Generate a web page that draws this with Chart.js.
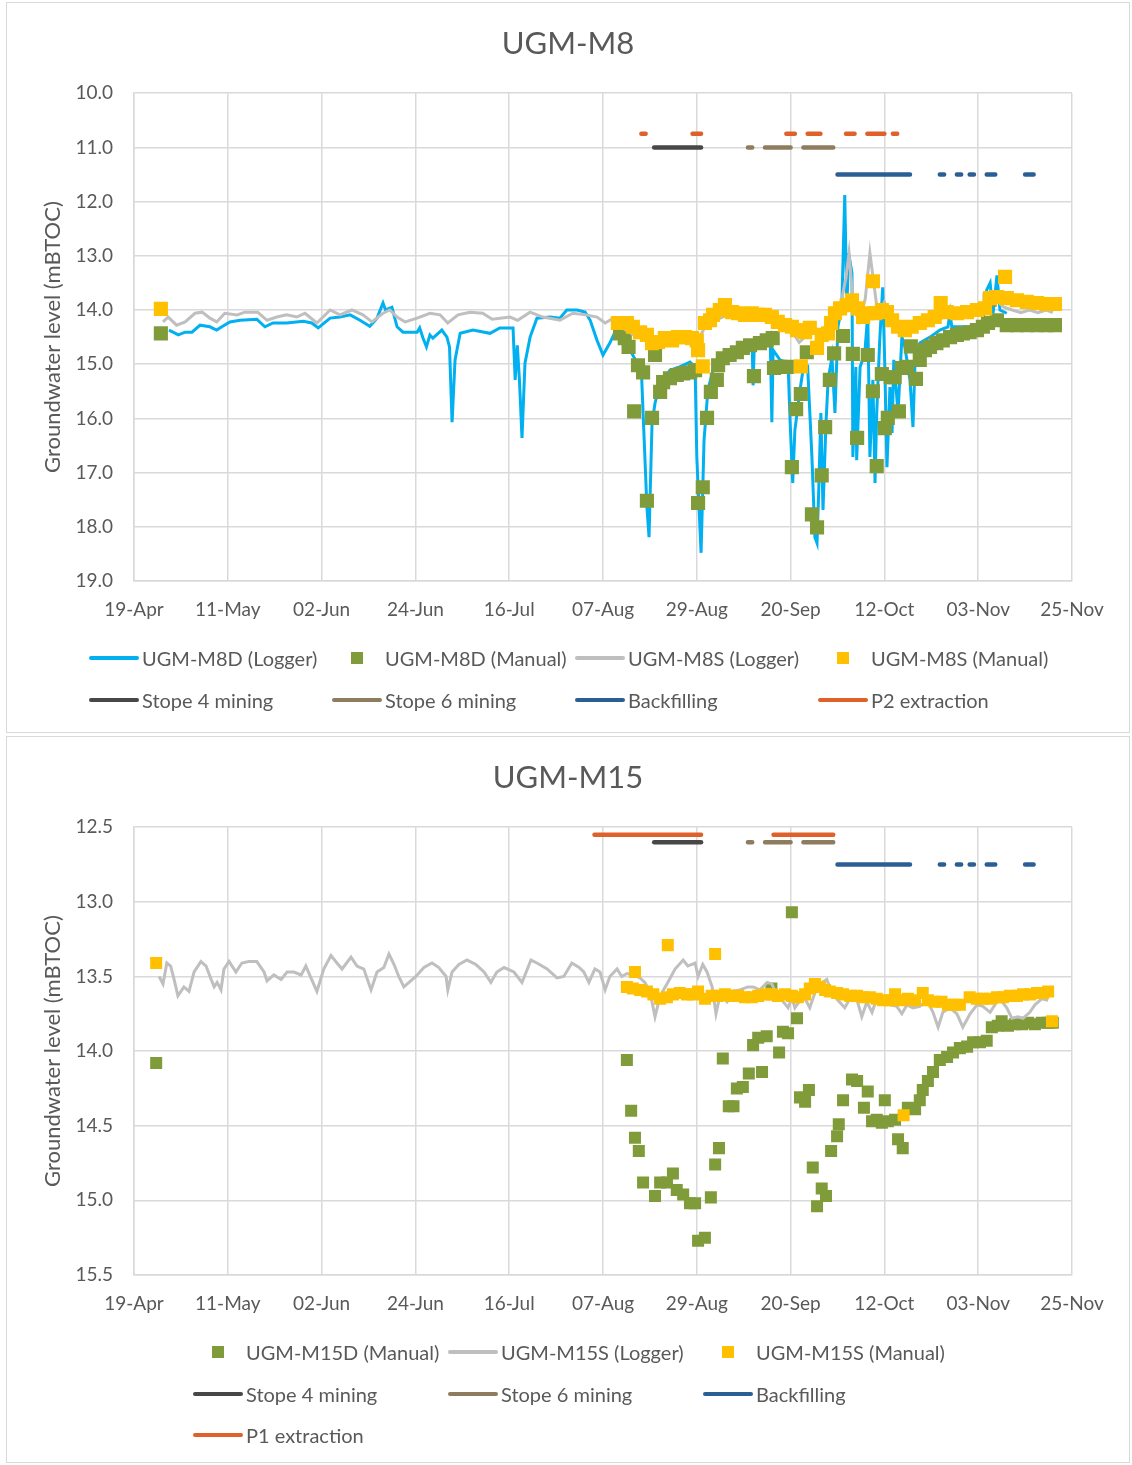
<!DOCTYPE html>
<html>
<head>
<meta charset="utf-8">
<script src="https://cdn.jsdelivr.net/npm/chart.js@4.4.1/dist/chart.umd.min.js"></script>
<style>
  body { margin: 0; background: #fff; font-family: Lato, sans-serif; }
  .box { position: absolute; left: 6px; width: 1122px; border: 1px solid #d9d9d9; background: #fff; }
  #box1 { top: 2px; height: 729px; }
  #box2 { top: 736px; height: 725px; }
  .box canvas { position: absolute; left: 0; top: 0; }
  .item { position: absolute; height: 24px; line-height: 24px; font-size: 20px; color: #595959; white-space: nowrap; }
  .sample { display: inline-block; vertical-align: top; position: relative; width: 50px; height: 24px; margin-right: 3px; }
  .line { position: absolute; left: 0; right: 0; top: 10px; height: 4px; border-radius: 2px; }
  .mark { position: absolute; left: 19px; top: 6px; width: 12px; height: 12px; }
</style>
</head>
<body>
<div class="box" id="box1"><canvas id="chart_m8" width="1122" height="729"></canvas></div>
<div class="box" id="box2"><canvas id="chart_m15" width="1122" height="725"></canvas></div>

<script>
// x values are days counted from 19-Apr
var tickLabels = ["19-Apr", "11-May", "02-Jun", "24-Jun", "16-Jul", "07-Aug", "29-Aug", "20-Sep", "12-Oct", "03-Nov", "25-Nov"];

// ------------------- UGM-M8 -------------------------
var m8dLoggerDays = [8.2, 10.4, 12, 13.6, 15.5, 17.8, 19.4, 20.6, 22.5, 24.9, 28.8, 30.7, 32.6, 35.8, 39.7, 41.7, 43.2, 46, 48.3, 50.7,
  53, 55.3, 57, 58.4, 59, 60.5, 61.7, 63.1, 66.4, 67, 67.8, 68.6, 69.4, 70.1, 72.2, 73.4, 74, 74.6, 75.3, 76.5,
  79.5, 83.5, 85.8, 88.9, 89.4, 89.9, 90.4, 91, 91.7, 92.9, 94.5, 97.6, 99.9, 101.5, 103.9, 105.8, 107, 108.6, 110, 111.6,
  112.8, 114, 116.3, 119, 119.5, 120.3, 120.8, 121.5, 122.2, 123.4, 125.7, 128, 130.4, 131.6, 132, 133, 133.7, 134.6, 135.8, 138.1,
  141.4, 143.8, 145, 145.2, 145.5, 148, 149.2, 149.6, 149.9, 151.5, 153.4, 153.9, 154.5, 155, 156.2, 156.9, 158, 159, 159.7, 160.2,
  160.6, 161.1, 161.6, 162.3, 162.8, 163.7, 164.4, 165.1, 166, 166.7, 167.2, 167.6, 168.4, 168.6, 169.3, 169.5, 170.3, 171.4, 172.1, 172.6,
  173.3, 173.8, 174.2, 174.9, 175.6, 176.1, 176.6, 177.3, 177.8, 178.2, 179.2, 180.1, 180.8, 182, 182.7, 183.2, 184.3, 186.7, 189, 190.9,
  191.4, 191.8, 193.7, 196.8, 199.1, 200, 200.8, 201.5, 202.4, 203.1, 204.7];
var m8dLoggerLevel = [14.37, 14.46, 14.41, 14.41, 14.28, 14.31, 14.37, 14.31, 14.22, 14.19, 14.17, 14.31, 14.24, 14.24, 14.21, 14.24, 14.33, 14.15, 14.13, 14.09,
  14.19, 14.30, 14.15, 13.87, 14.0, 13.95, 14.31, 14.41, 14.41, 14.33, 14.52, 14.68, 14.46, 14.52, 14.37, 14.50, 14.68, 16.07, 14.92, 14.43,
  14.37, 14.43, 14.33, 14.33, 15.29, 14.65, 15.29, 16.36, 14.98, 14.50, 14.15, 14.13, 14.15, 14.0, 14.0, 14.04, 14.19, 14.56, 14.83, 14.61,
  14.41, 14.5, 14.74, 15.11, 16.09, 17.64, 18.19, 16.09, 15.72, 15.35, 15.11, 15.05, 14.96, 15.05, 16.71, 18.48, 16.40, 15.48, 15.11, 14.87,
  14.70, 14.61, 14.68, 15.39, 14.61, 14.50, 14.43, 16.07, 14.74, 14.92, 14.98, 16.09, 17.19, 16.22, 15.48, 15.11, 15.05, 16.71, 18.19, 18.30,
  17.32, 15.90, 17.69, 16.09, 15.29, 14.87, 15.90, 14.31, 13.95, 11.88, 13.95, 12.95, 13.32, 16.71, 15.05, 16.77, 15.05, 14.80, 14.06, 16.71,
  15.29, 17.19, 15.90, 14.56, 13.58, 15.05, 16.90, 15.42, 16.27, 14.92, 15.90, 14.50, 14.68, 15.29, 16.16, 14.92, 14.61, 14.50, 14.37, 14.31,
  14.06, 14.31, 14.31, 14.31, 14.19, 13.63, 13.50, 14.06, 13.36, 14.0, 14.06];

var m8sLoggerDays = [6.8, 8, 10, 12, 14.3, 16, 17.8, 19.4, 21.3, 24.2, 26, 29, 31.2, 33.5, 35.8, 38.2, 40.1, 42.9, 46, 48.3,
  51.1, 53.7, 55.8, 58.4, 60, 61.7, 63.6, 66.4, 69.4, 71.8, 73.6, 76, 78.8, 81.8, 84, 88.2, 90, 92.9, 95.9, 99.9,
  102.9, 106, 108.6, 110.5, 112.4, 114, 117, 120, 123, 126, 129, 132, 134, 136, 139, 142, 145, 148, 151, 154,
  156, 158, 160, 162, 163, 165, 166, 167, 167.7, 168.4, 169, 170, 171.5, 172.6, 173.5, 174.5, 176, 178, 180, 182,
  185, 188, 191, 194, 197, 200, 202, 204, 206, 208, 210, 212, 214, 215.5];
var m8sLoggerLevel = [14.22, 14.13, 14.28, 14.22, 14.06, 14.04, 14.15, 14.22, 14.06, 14.09, 14.04, 14.04, 14.19, 14.13, 14.09, 14.13, 14.06, 14.24, 14.0, 14.09,
  14.0, 14.09, 14.22, 14.06, 14.0, 14.13, 14.22, 14.15, 14.06, 14.09, 14.24, 14.09, 14.04, 14.06, 14.17, 14.13, 14.19, 14.04, 14.13, 14.19,
  14.06, 14.09, 14.13, 14.24, 14.15, 14.3, 14.45, 14.55, 14.6, 14.55, 14.55, 14.6, 14.3, 14.2, 14.1, 14.05, 14.1, 14.15, 14.2, 14.35,
  14.6, 14.45, 14.35, 14.45, 14.3, 14.0, 13.8, 13.4, 12.95, 13.6, 14.0, 14.2, 13.8, 12.95, 13.5, 14.1, 13.85, 14.3, 14.4, 14.35,
  14.3, 14.2, 14.1, 14.1, 14.0, 13.9, 13.8, 13.95, 14.0, 14.05, 14.0, 14.05, 14.0, 14.05];

var m8dManualDays = [6.3, 114, 115.1, 116, 117.3, 118.2, 119.4, 120.3, 121.5, 122.2, 123.4, 124.1, 125.7, 127.3, 128.8, 130.4, 131.6, 132.3, 133.4, 134.4,
  135.3, 136.7, 137, 138.1, 139.7, 141.4, 142.8, 144.5, 145.4, 146.8, 148.4, 149.8, 150.1, 151.5, 153.1, 154.3, 155.3, 156.4, 157.8, 159,
  160.2, 161.3, 162.1, 163.2, 164.2, 166.3, 168.6, 169.6, 172.1, 173.3, 174.2, 175.4, 176.1, 176.8, 177.5, 178.4, 179.4, 180.1, 181.3, 182.2,
  183.4, 184.3, 185.5, 186.7, 188.2, 189.7, 191.4, 193, 194.4, 196, 197.7, 199.1, 200.3, 200.7, 202.4, 204.7, 207.1, 209.4, 211.8, 214, 216];
var m8dManualLevel = [14.43, 14.43, 14.52, 14.68, 15.87, 15.02, 15.15, 17.52, 15.99, 14.83, 15.51, 15.33, 15.26, 15.20, 15.17, 15.15, 15.11, 17.56, 17.27, 15.99,
  15.51, 15.29, 15.02, 14.89, 14.83, 14.78, 14.70, 14.65, 15.22, 14.61, 14.56, 14.52, 15.07, 15.05, 15.05, 16.90, 15.83, 15.55, 14.78, 17.77,
  18.01, 17.05, 16.16, 15.29, 14.80, 14.48, 14.81, 16.36, 14.83, 15.50, 16.88, 15.18, 16.18, 15.99, 15.24, 15.24, 15.87, 15.07, 15.05, 14.67,
  15.27, 14.92, 14.74, 14.68, 14.61, 14.56, 14.50, 14.46, 14.43, 14.41, 14.37, 14.31, 14.24, 13.81, 14.19, 14.28, 14.28, 14.28, 14.28, 14.28, 14.28];

var m8sManualDays = [6.3, 113.5, 115.6, 117, 118.7, 120.3, 121.5, 122.9, 124.5, 126.2, 127.6, 129.2, 130.9, 132, 132.3, 133.4, 133.9, 135.1, 135.8, 137.4,
  138.6, 140.3, 141.7, 143.3, 144.9, 146.4, 148, 149.6, 151, 152.7, 154.3, 155.5, 156.4, 157.4, 158.5, 160.2, 161.3, 162.8, 163.5, 164.4,
  165.6, 167.2, 168.4, 169.8, 171, 172.1, 173.3, 173.8, 175.4, 176.6, 177.8, 179.2, 180.8, 182.4, 184.3, 186.2, 187.8, 189.2, 190.6, 193,
  195.4, 197.7, 199.6, 200.8, 202.4, 204.3, 204.7, 207.1, 209.4, 211.8, 214, 216];
var m8sManualLevel = [13.98, 14.24, 14.24, 14.31, 14.41, 14.46, 14.61, 14.59, 14.52, 14.56, 14.50, 14.50, 14.52, 14.56, 14.74, 15.04, 14.24, 14.19, 14.09, 14.0,
  13.91, 14.04, 14.06, 14.09, 14.06, 14.09, 14.09, 14.13, 14.22, 14.28, 14.31, 14.37, 15.04, 14.41, 14.33, 14.70, 14.46, 14.43, 14.24, 14.06,
  13.97, 13.91, 13.82, 13.97, 14.13, 14.06, 13.47, 14.06, 14.0, 14.04, 14.19, 14.31, 14.37, 14.31, 14.24, 14.19, 14.13, 13.87, 14.04, 14.06,
  14.04, 14.0, 13.97, 13.78, 13.76, 13.39, 13.78, 13.82, 13.85, 13.87, 13.89, 13.89];

// ------------------- UGM-M15 -------------------------
var m15sLoggerDays = [5.9, 6.8, 7.7, 8.6, 9.4, 10.3, 11.7, 12.9, 14.1, 15.7, 16.9, 18.1, 18.8, 19.5, 20.4, 21.1, 22.3, 23.9, 25.3, 26.9,
  28.8, 30.5, 31.2, 32.8, 34.5, 35.9, 37.5, 39.2, 40.3, 41.5, 42.9, 44.5, 46.2, 47.6, 48.8, 50.9, 52.3, 53.9, 55.6, 57,
  58.6, 59.8, 61, 62.1, 63.3, 64.5, 66.1, 68, 69.9, 71.5, 73.2, 73.6, 74.6, 76.2, 78.1, 80.2, 82.1, 83.7, 85.1, 86.8,
  89.1, 91, 93.1, 94.5, 96.9, 99.2, 100.8, 102.7, 104.4, 105.5, 106.7, 108.1, 109.3, 110.5, 111.6, 113.3, 114.4, 115.6, 117, 118.7,
  119.8, 121, 122.2, 123.4, 125.2, 126.9, 128.8, 129.9, 131.6, 132.3, 133.4, 134.4, 135.6, 136.5, 137.4, 139.1, 140.2, 142.1, 144, 145.2,
  146.8, 148.5, 149.6, 150.8, 152, 153.4, 154.3, 155, 156.2, 157.4, 158.5, 159.7, 160.9, 162.5, 163.7, 165.1, 166.7, 167.9, 169.6, 170.7,
  171.9, 173.1, 174.2, 175.4, 177.3, 178.9, 180.1, 181.3, 182.7, 184.3, 186, 187.4, 188.6, 189.7, 191.4, 193, 194.4, 196.1, 197.7, 199.1,
  200.8, 201.9, 203.1, 204.7, 205.9, 207.3, 208.5, 210.1, 211.3, 212.9, 214.4];
var m15sLoggerLevel = [13.50, 13.55, 13.41, 13.43, 13.52, 13.63, 13.57, 13.60, 13.47, 13.40, 13.43, 13.52, 13.57, 13.54, 13.59, 13.45, 13.40, 13.47, 13.41, 13.40,
  13.40, 13.47, 13.53, 13.49, 13.52, 13.47, 13.47, 13.49, 13.43, 13.51, 13.60, 13.45, 13.36, 13.41, 13.45, 13.37, 13.43, 13.45, 13.59, 13.47,
  13.44, 13.35, 13.42, 13.50, 13.57, 13.54, 13.50, 13.44, 13.41, 13.44, 13.50, 13.59, 13.47, 13.42, 13.39, 13.42, 13.47, 13.54, 13.47, 13.44,
  13.47, 13.54, 13.39, 13.41, 13.45, 13.51, 13.50, 13.41, 13.44, 13.47, 13.54, 13.45, 13.47, 13.59, 13.50, 13.45, 13.50, 13.48, 13.49, 13.51,
  13.54, 13.60, 13.77, 13.63, 13.54, 13.45, 13.39, 13.43, 13.41, 13.50, 13.42, 13.47, 13.57, 13.75, 13.63, 13.67, 13.60, 13.59, 13.57, 13.57,
  13.59, 13.54, 13.55, 13.63, 13.66, 13.71, 13.64, 13.71, 13.66, 13.65, 13.71, 13.61, 13.55, 13.52, 13.61, 13.66, 13.71, 13.65, 13.66, 13.77,
  13.67, 13.74, 13.65, 13.67, 13.69, 13.70, 13.75, 13.69, 13.71, 13.70, 13.66, 13.74, 13.84, 13.74, 13.71, 13.75, 13.84, 13.75, 13.69, 13.70,
  13.74, 13.69, 13.65, 13.71, 13.78, 13.77, 13.78, 13.74, 13.69, 13.65, 13.66];

var m15dManualDays = [5.2, 115.6, 116.6, 117.5, 118.4, 119.4, 122.2, 123.4, 125, 126.4, 127.3, 128.8, 130.4, 131.6, 132.3, 133.9, 135.3, 136.3, 137.2, 138.1,
  139.5, 140.6, 141.4, 142.8, 144.2, 145.2, 146.4, 147.3, 148.4, 149.5, 151.3, 152.2, 153.4, 154.3, 155.5, 156.2, 157.4, 158.3, 159.2, 160.2,
  161.3, 162.3, 163.5, 164.9, 165.3, 166.3, 168.4, 169.6, 171.2, 172.1, 173.1, 174.2, 175.4, 176.1, 176.8, 178.5, 179.2, 180.3, 181.5, 183.2,
  184.3, 185, 186.2, 187.4, 189, 190.7, 192.1, 193.7, 195.4, 196.8, 198.4, 200, 201.2, 202.6, 203.5, 205, 206.6, 208.3, 209.7, 211.3,
  212.9, 214.4, 215.5];
var m15dManualLevel = [14.08, 14.06, 14.40, 14.58, 14.67, 14.88, 14.97, 14.88, 14.88, 14.82, 14.93, 14.96, 15.02, 15.02, 15.27, 15.25, 14.98, 14.76, 14.65, 14.05,
  14.37, 14.37, 14.25, 14.24, 14.15, 13.96, 13.91, 14.14, 13.90, 13.58, 14.01, 13.87, 13.88, 13.07, 13.78, 14.31, 14.34, 14.26, 14.78, 15.04,
  14.92, 14.97, 14.67, 14.57, 14.49, 14.33, 14.19, 14.20, 14.38, 14.27, 14.47, 14.46, 14.48, 14.33, 14.47, 14.46, 14.59, 14.65, 14.38, 14.39,
  14.33, 14.26, 14.20, 14.14, 14.06, 14.04, 14.01, 13.98, 13.97, 13.94, 13.94, 13.93, 13.84, 13.83, 13.80, 13.83, 13.82, 13.82, 13.81, 13.82,
  13.81, 13.81, 13.81];

var m15sManualDays = [5.2, 115.6, 117, 117.5, 118.7, 120.3, 121.8, 123.4, 125, 125.2, 126.4, 128, 129.7, 131.1, 132.3, 133.9, 135.5, 136.3, 136.9, 138.6,
  140.2, 141.7, 143.3, 144.9, 146.4, 148, 149.6, 151, 152.7, 154.3, 155.7, 157.4, 158.5, 159.7, 160.9, 162.1, 163.2, 164.9, 166.3, 168,
  169.6, 171, 172.6, 174.2, 175.7, 177.3, 178.5, 180.1, 180.5, 181.5, 183.2, 185, 186.2, 187.8, 189.4, 190.9, 192.5, 193.7, 196, 197.7,
  199.1, 200.8, 202.4, 203.8, 205.4, 207.1, 208.5, 210.2, 211.8, 213.2, 214.4, 215.3];
var m15sManualLevel = [13.41, 13.57, 13.58, 13.47, 13.59, 13.60, 13.62, 13.65, 13.64, 13.29, 13.62, 13.61, 13.62, 13.62, 13.60, 13.65, 13.63, 13.35, 13.63, 13.62,
  13.63, 13.63, 13.64, 13.64, 13.63, 13.62, 13.62, 13.63, 13.62, 13.63, 13.64, 13.62, 13.58, 13.55, 13.57, 13.59, 13.60, 13.61, 13.62, 13.63,
  13.63, 13.64, 13.64, 13.65, 13.66, 13.66, 13.62, 13.66, 14.43, 13.65, 13.66, 13.61, 13.66, 13.67, 13.67, 13.69, 13.69, 13.69, 13.64, 13.65,
  13.65, 13.65, 13.64, 13.64, 13.63, 13.63, 13.62, 13.62, 13.61, 13.61, 13.60, 13.80];

// ------------------- activity periods (start day, end day) -------------------------
var stope4Periods = [[122, 133]];
var stope6Periods = [[144, 145], [148, 154], [157, 164]];
var backfillPeriods = [[165, 182], [189, 190], [193, 194], [196, 197], [200, 202], [209, 211]];
var p2Periods = [[119, 120], [131, 133], [153, 155], [158, 161], [167, 169], [172, 176], [178, 179]];
var p1Periods = [[108, 133], [150, 164]];

var textColor = "#595959";
var gridColor = "#d9d9d9";

//funzione per unire giorni e livelli
function toPoints(days, levels) {
  var points = [];
  for (var i = 0; i < days.length; i++) {
    points.push({ x: days[i], y: levels[i] });
  }
  return points;
}

//funzione per i periodi di attivita (linee orizzontali)
function toPeriods(periods, level) {
  var points = [];
  periods.forEach(function(p) {
    points.push({ x: p[0], y: level });
    points.push({ x: p[1], y: level });
    points.push({ x: p[1], y: null });
  });
  return points;
}

function loggerSet(label, points, color, order) {
  return {
    label: label, data: points, borderColor: color, backgroundColor: color,
    borderWidth: 3, pointRadius: 0, tension: 0, order: order
  };
}

function manualSet(label, points, color, size, order) {
  return {
    label: label, data: points, showLine: false, pointStyle: "rect",
    pointRadius: size, pointBackgroundColor: color, pointBorderWidth: 0,
    borderColor: color, backgroundColor: color, order: order
  };
}

function periodSet(label, points, color) {
  return {
    label: label, data: points, borderColor: color, backgroundColor: color,
    borderWidth: 4.5, borderCapStyle: "round", pointRadius: 0, spanGaps: false, order: 0
  };
}

//funzione per stampare il grafico
function printChart(canvasId, title, datasets, yMin, yMax, yStep, padBottom) {
  var ctx = document.getElementById(canvasId);
  return new Chart(ctx, {
    type: "line",
    data: { datasets: datasets },
    options: {
      responsive: false,
      animation: false,
      events: [],
      // same padding left and right so the title sits in the middle of the box
      layout: { padding: { left: 57, right: 57, top: 0, bottom: padBottom } },
      plugins: {
        legend: { display: false },
        tooltip: { enabled: false },
        title: {
          display: true, text: title, color: textColor,
          font: { family: "Lato", size: 31, weight: "normal" },
          padding: { top: 22, bottom: 31 }
        }
      },
      scales: {
        x: {
          type: "linear", min: 0, max: 220,
          afterFit: function(s) { s.height = 40; },
          grid: { color: gridColor, lineWidth: 1.5, drawTicks: false },
          border: { color: gridColor, width: 1.5 },
          ticks: {
            stepSize: 22, autoSkip: false, maxRotation: 0, padding: 17, color: textColor,
            font: { family: "Lato", size: 19 },
            callback: function(v) { return tickLabels[Math.round(v / 22)]; }
          }
        },
        y: {
          reverse: true, min: yMin, max: yMax,
          afterFit: function(s) { s.width = 70; },
          grid: { color: gridColor, lineWidth: 1.5, drawTicks: false },
          border: { color: gridColor, width: 1.5 },
          title: {
            display: true, text: "Groundwater level (mBTOC)", color: textColor,
            font: { family: "Lato", size: 22 }, padding: { top: -24, bottom: 0 }
          },
          ticks: {
            stepSize: yStep, padding: 21, color: textColor,
            font: { family: "Lato", size: 19 },
            callback: function(v) { return v.toFixed(1); }
          }
        }
      }
    }
  });
}

//funzione per la legenda a griglia
function printLegend(boxId, chart, cols, rows) {
  var box = document.getElementById(boxId);
  chart.data.datasets.forEach(function(ds, i) {
    var item = document.createElement("div");
    item.className = "item";
    item.style.left = cols[i % cols.length] + "px";
    item.style.top = (rows[Math.floor(i / cols.length)] - 12) + "px";
    var sample = document.createElement("span");
    sample.className = "sample";
    var mark = document.createElement("span");
    if (ds.showLine === false) {
      mark.className = "mark";
      mark.style.background = ds.pointBackgroundColor;
    } else {
      mark.className = "line";
      mark.style.background = ds.borderColor;
    }
    sample.appendChild(mark);
    item.appendChild(sample);
    item.appendChild(document.createTextNode(ds.label));
    box.appendChild(item);
  });
}

var chartM8 = printChart("chart_m8", "UGM-M8", [
  loggerSet("UGM-M8D (Logger)", toPoints(m8dLoggerDays, m8dLoggerLevel), "#00B0F0", 4),
  manualSet("UGM-M8D (Manual)", toPoints(m8dManualDays, m8dManualLevel), "#809C3A", 10, 3),
  loggerSet("UGM-M8S (Logger)", toPoints(m8sLoggerDays, m8sLoggerLevel), "#BFBFBF", 2),
  manualSet("UGM-M8S (Manual)", toPoints(m8sManualDays, m8sManualLevel), "#FFC000", 10, 1),
  periodSet("Stope 4 mining", toPeriods(stope4Periods, 11.0), "#474747"),
  periodSet("Stope 6 mining", toPeriods(stope6Periods, 11.0), "#8E7C5E"),
  periodSet("Backfilling", toPeriods(backfillPeriods, 11.5), "#2B5F94"),
  periodSet("P2 extraction", toPeriods(p2Periods, 10.75), "#E0602A")
], 10, 19, 1, 111);

var chartM15 = printChart("chart_m15", "UGM-M15", [
  manualSet("UGM-M15D (Manual)", toPoints(m15dManualDays, m15dManualLevel), "#809C3A", 8.5, 3),
  loggerSet("UGM-M15S (Logger)", toPoints(m15sLoggerDays, m15sLoggerLevel), "#BFBFBF", 2),
  manualSet("UGM-M15S (Manual)", toPoints(m15sManualDays, m15sManualLevel), "#FFC000", 8.5, 1),
  periodSet("Stope 4 mining", toPeriods(stope4Periods, 12.6), "#474747"),
  periodSet("Stope 6 mining", toPeriods(stope6Periods, 12.6), "#8E7C5E"),
  periodSet("Backfilling", toPeriods(backfillPeriods, 12.75), "#2B5F94"),
  periodSet("P1 extraction", toPeriods(p1Periods, 12.55), "#E0602A")
], 12.5, 15.5, 0.5, 147);

printLegend("box1", chartM8, [82, 325, 568, 811], [655, 697]);
printLegend("box2", chartM15, [186, 441, 696], [615, 657, 698]);
</script>
</body>
</html>
